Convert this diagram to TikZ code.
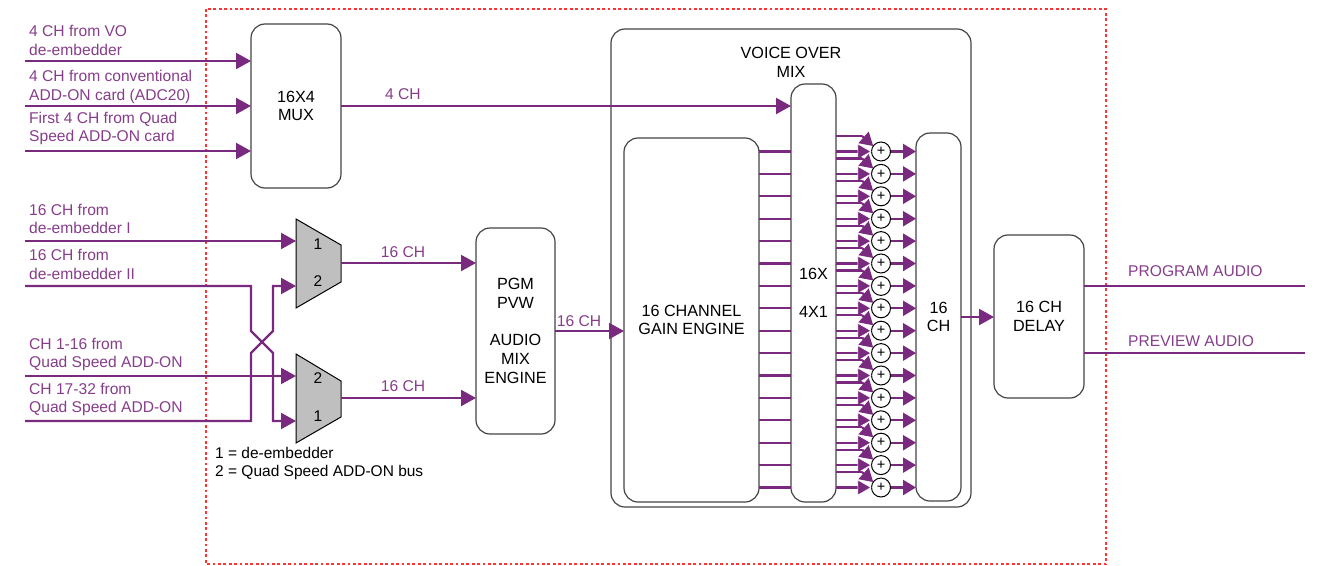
\documentclass[tikz,border=0pt]{standalone}
\usepackage{fontspec}
\setmainfont{Liberation Sans}
\usetikzlibrary{arrows.meta}
\usetikzlibrary{positioning}
\definecolor{sigpurple}{HTML}{7A2A7E}
\definecolor{sigtext}{HTML}{863D8A}
\definecolor{boxgray}{HTML}{444444}
\definecolor{framered}{HTML}{FF3333}
\tikzset{
	sigline/.style={draw=sigpurple,line width=2.2pt},
	sigarrow/.style={sigline,-{Triangle[length=15pt,width=16pt]}},
	sumarrow/.style={sigline,-{Triangle[length=13pt,width=15pt]}},
	sumarrowgap/.style={sigline,-{Triangle[length=14pt,width=16pt,line width=0.6pt,color=white,fill=sigpurple]}},
	blockbox/.style={draw=boxgray,line width=1.2pt,rounded corners=14pt,inner sep=0pt,outer sep=0pt,align=center,font=\fontsize{16.2}{18.7}\selectfont},
	siglabel/.style={text=sigtext,inner sep=0pt,anchor=west,align=left,font=\fontsize{15.6}{18.7}\selectfont},
	sumnode/.style={circle,draw=black,line width=1pt,fill=white,minimum size=19pt,inner sep=0pt,outer sep=0pt,font=\fontsize{14.5}{14.5}\selectfont},
	muxshape/.style={draw=black,line width=1pt,fill=black!25,line join=miter},
	muxnum/.style={inner sep=0pt,font=\fontsize{15.5}{18}\selectfont}
}
\begin{document}
\begin{tikzpicture}[x=1pt,y=-1pt]
	\useasboundingbox (0,0) rectangle (1328,565);
	
	% dotted card outline
	\draw[framered,line width=2.8pt,dash pattern=on 2.8pt off 2.6pt] (206,9) rectangle (1106,564);
	
	% blocks
	\node[blockbox,minimum width=90pt,minimum height=164pt] (mux) at (296,106) {16X4\\MUX};
	\node[blockbox,minimum width=79pt,minimum height=206pt] (pgm) at (515.5,331) {PGM\\PVW\\ \\AUDIO\\MIX\\ENGINE};
	\node[blockbox,minimum width=360pt,minimum height=478pt] (vomix) at (791,268) {};
	\node[inner sep=0pt,align=center,font=\fontsize{16.2}{18.7}\selectfont] (votitle) at (791,62) {VOICE OVER\\MIX};
	\node[blockbox,minimum width=135pt,minimum height=364pt] (gain) at (691.5,320) {16 CHANNEL\\GAIN ENGINE};
	\node[blockbox,minimum width=45pt,minimum height=418pt] (vosel) at (813.5,293) {16X\\ \\4X1};
	\node[blockbox,minimum width=45pt,minimum height=368pt] (chbox) at (938.5,317) {16\\CH};
	\node[blockbox,minimum width=90pt,minimum height=163pt] (delay) at (1039,316.5) {16 CH\\DELAY};
	
	% the two 2:1 selectors
	\draw[muxshape] (296,219) -- (341,245) -- (341,282) -- (296,308) -- cycle;
	\draw[muxshape] (296,354) -- (341,381) -- (341,417) -- (296,443) -- cycle;
	\draw[black!60,line width=1.6pt] (341.5,245) -- (341.5,282) (341.5,381) -- (341.5,417);
	\node[muxnum] (seltopa) at (318,244) {1};
	\node[muxnum] (seltopb) at (318,281) {2};
	\node[muxnum] (selbota) at (318,378) {2};
	\node[muxnum] (selbotb) at (318,416) {1};
	\coordinate (seltopin1) at (296,241);
	\coordinate (seltopin2) at (296,286);
	\coordinate (seltopout) at (341,263);
	\coordinate (selbotin2) at (296,376);
	\coordinate (selbotin1) at (296,421);
	\coordinate (selbotout) at (341,398);
	
	% inputs
	\coordinate (invo) at (25,61);
	\coordinate (inconv) at (25,106);
	\coordinate (inquad) at (25,151);
	\coordinate (indea) at (25,241);
	\coordinate (indeb) at (25,286);
	\coordinate (inqa) at (25,376);
	\coordinate (inqb) at (25,421);
	\draw[sigarrow] (invo) -- (invo -| mux.west);
	\draw[sigarrow] (inconv) -- (inconv -| mux.west);
	\draw[sigarrow] (inquad) -- (inquad -| mux.west);
	\draw[sigarrow] (indea) -- (seltopin1);
	\draw[sigarrow] (inqa) -- (selbotin2);
	
	% crossed lines
	\draw[sigarrow] (indeb) -- (251,286) -- (251,331) -- (273,353) -- (273,421) -- (selbotin1);
	\draw[sigarrow] (inqb) -- (251,421) -- (251,353) -- (273,331) -- (273,286) -- (seltopin2);
	
	\node[siglabel] (lblvo) at (29,40.5) {4 CH from VO\\de-embedder};
	\node[siglabel] (lblconv) at (29,87) {4 CH from conventional\\ADD-ON card (ADC20)};
	\node[siglabel] (lblquad) at (29,128.5) {First 4 CH from Quad\\Speed ADD-ON card};
	\node[siglabel] (lbldea) at (29,219) {16 CH from\\de-embedder I};
	\node[siglabel] (lbldeb) at (29,264.5) {16 CH from\\de-embedder II};
	\node[siglabel] (lblqa) at (29,354.5) {CH 1-16 from\\Quad Speed ADD-ON};
	\node[siglabel] (lblqb) at (29,399.5) {CH 17-32 from\\Quad Speed ADD-ON};
	
	% legend
	\node[inner sep=0pt,anchor=west,align=left,font=\fontsize{15.5}{18.6}\selectfont] (legend) at (215,463.5) {1 = de-embedder\\2 = Quad Speed ADD-ON bus};
	
	% buses between blocks
	\draw[sigarrow] (seltopout) -- (seltopout -| pgm.west);
	\draw[sigarrow] (selbotout) -- (selbotout -| pgm.west);
	\draw[sigarrow] (mux.east) -- (mux.east -| vosel.west);
	\draw[sigarrow] (pgm.east) -- (pgm.east -| gain.west);
	\draw[sigarrow] (chbox.east) -- (chbox.east -| delay.west);
	\node[siglabel,anchor=center] (lblfour) at (403,94.5) {4 CH};
	\node[siglabel,anchor=center] (lbltop) at (403,252.5) {16 CH};
	\node[siglabel,anchor=center] (lblbot) at (403,386.5) {16 CH};
	\node[siglabel,anchor=center] (lblpgm) at (579,321.5) {16 CH};
	
	% 16 summing channels
	\foreach \i in {0,...,15} {
		\pgfmathsetmacro{\ysum}{151.5+22.4*\i}
		\node[sumnode] (sum\i) at (881,\ysum) {+};
		\coordinate (bend\i) at (862,\ysum-15.5);
		\draw[sigline] (gain.east |- sum\i) -- (vosel.west |- sum\i);
		\draw[sigline] (vosel.east |- bend\i) -- (bend\i);
		\draw[sumarrow] (bend\i) -- (sum\i.145);
		\draw[sumarrowgap] (vosel.east |- sum\i) -- (sum\i.west);
		\draw[sumarrow] (sum\i.east) -- (sum\i -| chbox.west);
	}
	
	% outputs
	\coordinate (outpgm) at (1305,286);
	\coordinate (outpvw) at (1305,353);
	\draw[sigline] (delay.east |- outpgm) -- (outpgm);
	\draw[sigline] (delay.east |- outpvw) -- (outpvw);
	\node[siglabel] (lbloutpgm) at (1128,271.5) {PROGRAM AUDIO};
	\node[siglabel] (lbloutpvw) at (1128,341.5) {PREVIEW AUDIO};
\end{tikzpicture}
\end{document}
